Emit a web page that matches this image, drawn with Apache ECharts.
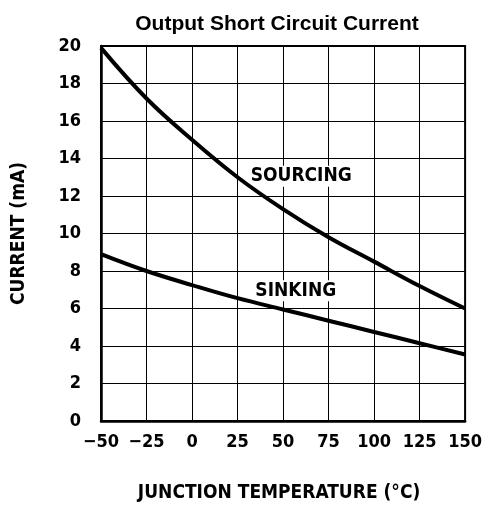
<!DOCTYPE html>
<html><head><meta charset="utf-8">
<script src="https://cdn.jsdelivr.net/npm/echarts@6/dist/echarts.min.js"></script>
<style>html,body{margin:0;padding:0;background:#fff}#c{width:485px;height:508px}</style>
</head><body><div id="c"></div>
<script>
const temperatures = [-50, -25, 0, 25, 50, 75, 100, 125, 150];
const sourcing = [19.9, 17.2, 15.0, 13.0, 11.3, 9.8, 8.5, 7.2, 6.0];
const sinking = [8.9, 8.0, 7.25, 6.55, 5.95, 5.35, 4.75, 4.15, 3.55];
const xTickLabels = {"-50": "\u221250", "-25": "\u221225", "0": "0", "25": "25", "50": "50", "75": "75", "100": "100", "125": "125", "150": "150"};
const yTickLabels = ["0", "2", "4", "6", "8", "10", "12", "14", "16", "18", "20"];
const curveLabels = [
  {name: "SOURCING", coord: [60, 13.05]},
  {name: "SINKING", coord: [57, 6.95]}
];
const FONT = "'DejaVu Sans Condensed', 'Liberation Sans Narrow', sans-serif";
const chart = echarts.init(document.getElementById('c'), null, {renderer: 'canvas'});
const pair = (xs, ys) => xs.map((x, i) => [x, ys[i]]);
const curveLabel = {show: true, position: 'inside', formatter: p => p.name, fontFamily: FONT, fontWeight: 'bold', fontSize: 19, color: '#000',
  backgroundColor: '#fff', padding: [1, 2]};
chart.setOption({
  animation: false,
  backgroundColor: '#fff',
  title: {
    text: 'Output Short Circuit Current', left: 272, top: 9, textAlign: 'center',
    textStyle: {fontFamily: "'Liberation Sans', Arial, sans-serif", fontWeight: 'bold', fontSize: 21, color: '#000'}
  },
  grid: {left: 101, right: 16, top: 46, bottom: 87, show: true, borderColor: '#000', borderWidth: 2},
  xAxis: {
    type: 'value', min: -50, max: 150, interval: 25,
    name: 'JUNCTION TEMPERATURE (\u00B0C)', nameLocation: 'middle', nameGap: 63,
    nameTextStyle: {fontFamily: FONT, fontWeight: 'bold', fontSize: 19, color: '#000', padding: [0, 8, 0, 0]},
    axisLine: {show: true, onZero: false, lineStyle: {color: '#000', width: 2.5}},
    axisTick: {show: false},
    axisLabel: {margin: 12, fontFamily: FONT, fontWeight: 'bold', fontSize: 18, color: '#000',
      formatter: v => xTickLabels[String(v)]},
    splitLine: {show: true, lineStyle: {color: '#000', width: 1}}
  },
  yAxis: {
    type: 'value', min: 0, max: 20, interval: 2,
    name: 'CURRENT (mA)', nameLocation: 'middle', nameGap: 72, nameRotate: 90,
    nameTextStyle: {fontFamily: FONT, fontWeight: 'bold', fontSize: 19, color: '#000'},
    axisLine: {show: true, onZero: false, lineStyle: {color: '#000', width: 2.5}},
    axisTick: {show: false},
    axisLabel: {margin: 20, fontFamily: FONT, fontWeight: 'bold', fontSize: 18, color: '#000',
      formatter: v => yTickLabels[Math.round(v / 2)]},
    splitLine: {show: true, lineStyle: {color: '#000', width: 1}}
  },
  series: [
    {type: 'line', data: pair(temperatures, sourcing), smooth: 0.4, symbol: 'none',
     lineStyle: {color: '#000', width: 4}, z: 5,
     markPoint: {symbol: 'rect', symbolSize: [1, 1], itemStyle: {color: 'rgba(0,0,0,0)'},
       label: curveLabel, data: [curveLabels[0]]}},
    {type: 'line', data: pair(temperatures, sinking), smooth: 0.4, symbol: 'none',
     lineStyle: {color: '#000', width: 4}, z: 5,
     markPoint: {symbol: 'rect', symbolSize: [1, 1], itemStyle: {color: 'rgba(0,0,0,0)'},
       label: curveLabel, data: [curveLabels[1]]}}
  ]
});
</script></body></html>
